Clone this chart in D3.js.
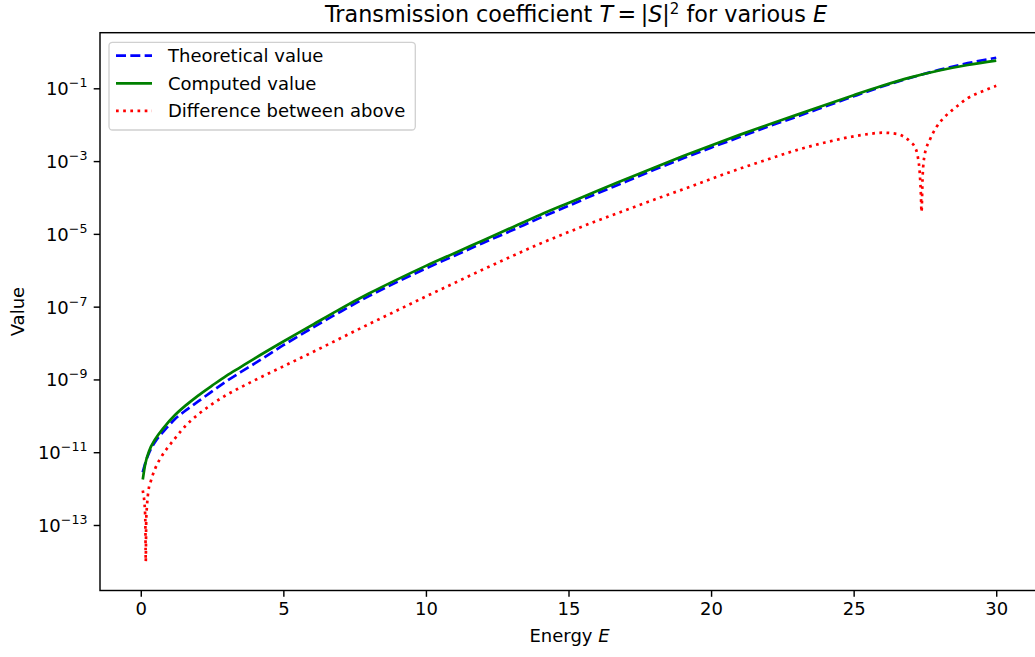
<!DOCTYPE html>
<html>
<head>
<meta charset="utf-8">
<script src="https://cdn.jsdelivr.net/npm/d3@7"></script>
<style>
  html, body { margin: 0; padding: 0; background: #fff; }
  svg { display: block; font-family: "DejaVu Sans", sans-serif; }
</style>
</head>
<body>
<svg id="chart" width="1035" height="657"></svg>
<script>
// ---- data ----
const energy = [0.07, 0.15, 0.3, 0.5, 0.8, 1.2, 1.6, 2.0, 2.5, 3.0, 3.5, 4.0, 5, 6, 7, 8, 9, 10,
  11, 12, 13, 14, 15, 16, 17, 18, 19, 20, 21, 22, 23, 24, 25, 26, 27, 28, 29, 30];

const theoretical = [2.82e-12, 4.79e-12, 1.00e-11, 1.91e-11, 3.72e-11, 8.13e-11, 1.45e-10, 2.45e-10,
  4.68e-10, 8.91e-10, 1.58e-9, 2.75e-9, 8.71e-9, 2.57e-8, 7.24e-8, 1.95e-7, 4.79e-7, 1.12e-6,
  2.51e-6, 5.62e-6, 1.23e-5, 2.75e-5, 5.89e-5, 1.29e-4, 2.69e-4, 5.75e-4, 1.17e-3, 2.34e-3,
  4.57e-3, 8.91e-3, 1.66e-2, 3.16e-2, 6.03e-2, 0.112, 0.195, 0.320, 0.490, 0.692];

const computed = [1.78e-12, 4.47e-12, 1.12e-11, 2.24e-11, 4.68e-11, 1.05e-10, 2.00e-10, 3.55e-10,
  6.76e-10, 1.26e-9, 2.19e-9, 3.80e-9, 1.10e-8, 3.09e-8, 8.71e-8, 2.29e-7, 5.62e-7, 1.32e-6,
  2.95e-6, 6.61e-6, 1.48e-5, 3.31e-5, 7.08e-5, 1.51e-4, 3.16e-4, 6.61e-4, 1.35e-3, 2.69e-3,
  5.25e-3, 1.00e-2, 1.86e-2, 3.47e-2, 6.46e-2, 0.117, 0.200, 0.309, 0.437, 0.575];

const diffEnergy = [0.07, 0.1, 0.13, 0.16, 0.175, 0.19, 0.22, 0.27, 0.35, 0.5, 0.7, 0.9, 1.2, 1.6,
  2.0, 2.5, 3.0, 3.5, 4.0, 5, 6, 7, 8, 9, 10, 11, 12, 13, 14, 15, 16, 17, 18, 19, 20, 21, 22, 23,
  24, 25, 25.5, 26, 26.5, 26.8, 27.0, 27.15, 27.25, 27.32, 27.36, 27.38, 27.42, 27.49, 27.67,
  27.9, 28.2, 28.6, 29.0, 29.5, 30.0];

const difference = [8.91e-13, 6.31e-13, 3.98e-13, 1.26e-13, 1.0e-14, 1.26e-13, 3.55e-13, 8.91e-13,
  1.58e-12, 3.47e-12, 7.08e-12, 1.20e-11, 2.40e-11, 5.62e-11, 1.07e-10, 2.09e-10, 3.72e-10,
  6.03e-10, 9.55e-10, 2.29e-9, 5.50e-9, 1.35e-8, 3.31e-8, 7.94e-8, 1.91e-7, 4.47e-7, 1.05e-6,
  2.40e-6, 5.37e-6, 1.12e-5, 2.29e-5, 4.47e-5, 8.71e-5, 1.66e-4, 3.24e-4, 6.17e-4, 1.12e-3,
  2.00e-3, 3.24e-3, 4.79e-3, 5.50e-3, 6.03e-3, 5.62e-3, 4.47e-3, 3.31e-3, 2.40e-3, 1.32e-3,
  4.47e-4, 1.12e-4, 3.98e-5, 3.98e-4, 1.48e-3, 3.80e-3, 8.51e-3, 1.66e-2, 3.09e-2, 5.37e-2,
  8.13e-2, 0.117];

const xTicks = [0, 5, 10, 15, 20, 25, 30];
const yTickExponents = [-13, -11, -9, -7, -5, -3, -1];
const legendLabels = ["Theoretical value", "Computed value", "Difference between above"];

// ---- layout ----
const svg = d3.select("#chart");
const plotLeft = 100, plotRight = 1039, plotTop = 32.7, plotBottom = 590.5;
const FS = 18, LW = 2.7;

const x = d3.scaleLinear().domain([-1.43, 31.5]).range([plotLeft, plotRight]);
const y = d3.scaleLog().domain([Math.pow(10, -14.80), Math.pow(10, 0.528)]).range([plotBottom, plotTop]);

svg.append("defs").append("clipPath").attr("id", "plotclip")
  .append("rect").attr("x", plotLeft).attr("y", plotTop)
  .attr("width", plotRight - plotLeft).attr("height", plotBottom - plotTop);

const plot = svg.append("g").attr("clip-path", "url(#plotclip)");
const lineGen = d3.line().curve(d3.curveMonotoneX);
function pts(xs, ys) { return xs.map((e, i) => [x(e), y(ys[i])]); }

const styles = [
  { color: "#0000ff", dash: "10,4.33" },
  { color: "#008000", dash: null },
  { color: "#ff0000", dash: "2.7,4.47" }
];

plot.append("path").attr("d", lineGen(pts(energy, theoretical)))
  .attr("fill", "none").attr("stroke", styles[0].color).attr("stroke-width", LW)
  .attr("stroke-dasharray", styles[0].dash);
plot.append("path").attr("d", lineGen(pts(energy, computed)))
  .attr("fill", "none").attr("stroke", styles[1].color).attr("stroke-width", LW);
plot.append("path").attr("d", lineGen(pts(diffEnergy, difference)))
  .attr("fill", "none").attr("stroke", styles[2].color).attr("stroke-width", LW)
  .attr("stroke-dasharray", styles[2].dash);

// ---- spines ----
svg.append("rect").attr("x", plotLeft).attr("y", plotTop)
  .attr("width", plotRight - plotLeft).attr("height", plotBottom - plotTop)
  .attr("fill", "none").attr("stroke", "#000").attr("stroke-width", 1.44);

// ---- x axis ----
const xAxis = svg.append("g").attr("transform", `translate(0,${plotBottom})`)
  .call(d3.axisBottom(x).tickValues(xTicks).tickSize(6.3).tickPadding(5.6).tickFormat(d3.format("d")));
xAxis.select(".domain").remove();
xAxis.selectAll("line").attr("stroke", "#000").attr("stroke-width", 1.44);
xAxis.selectAll("text").attr("font-size", FS + "px").attr("font-family", "DejaVu Sans").attr("fill", "#000");

// ---- y axis ----
const yAxis = svg.append("g").attr("transform", `translate(${plotLeft},0)`)
  .call(d3.axisLeft(y).tickValues(yTickExponents.map(e => Math.pow(10, e))).tickSize(6.3).tickPadding(6.3)
    .tickFormat(() => ""));
yAxis.select(".domain").remove();
yAxis.selectAll("line").attr("stroke", "#000").attr("stroke-width", 1.44);
yAxis.selectAll(".tick text").each(function(d, i) {
  const t = d3.select(this).attr("font-size", FS + "px").attr("font-family", "DejaVu Sans").attr("fill", "#000")
    .attr("dy", "0.36em");
  t.text(null);
  t.append("tspan").text("10");
  t.append("tspan").attr("font-size", "12.6px").attr("dy", "-8").text("\u2212" + Math.abs(yTickExponents[i]));
});

// ---- labels ----
svg.append("text").attr("x", (plotLeft + plotRight) / 2).attr("y", 642).attr("text-anchor", "middle")
  .attr("font-size", FS + "px").attr("fill", "#000")
  .call(t => { t.append("tspan").text("Energy "); t.append("tspan").attr("font-style", "italic").text("E"); });

svg.append("text").attr("transform", "translate(23.5,311.6) rotate(-90)").attr("text-anchor", "middle")
  .attr("font-size", FS + "px").attr("fill", "#000").text("Value");

const title = svg.append("text").attr("x", 576).attr("y", 21.5).attr("text-anchor", "middle")
  .attr("font-size", "22.3px").attr("fill", "#000");
title.append("tspan").text("Transmission coefficient ");
title.append("tspan").attr("font-style", "italic").text("T");
title.append("tspan").text("\u2009=\u2009|");
title.append("tspan").attr("font-style", "italic").text("S");
title.append("tspan").text("|");
title.append("tspan").attr("font-size", "15px").attr("dy", "-7.5").text("2");
title.append("tspan").attr("dy", "7.5").text(" for various ");
title.append("tspan").attr("font-style", "italic").text("E");

// ---- legend ----
const legend = svg.append("g");
legend.append("rect").attr("x", 109).attr("y", 42.3).attr("width", 306.3).attr("height", 87.7)
  .attr("rx", 3.5).attr("ry", 3.5)
  .attr("fill", "#fff").attr("fill-opacity", 0.8).attr("stroke", "#d0d0d0").attr("stroke-width", 1.3);
legendLabels.forEach((lab, i) => {
  const cy = 55.7 + i * 27.6;
  legend.append("line").attr("x1", 116).attr("x2", 152).attr("y1", cy).attr("y2", cy)
    .attr("stroke", styles[i].color).attr("stroke-width", LW)
    .attr("stroke-dasharray", styles[i].dash);
  legend.append("text").attr("x", 168).attr("y", cy).attr("dy", "0.36em")
    .attr("font-size", FS + "px").attr("fill", "#000").text(lab);
});
</script>
</body>
</html>
